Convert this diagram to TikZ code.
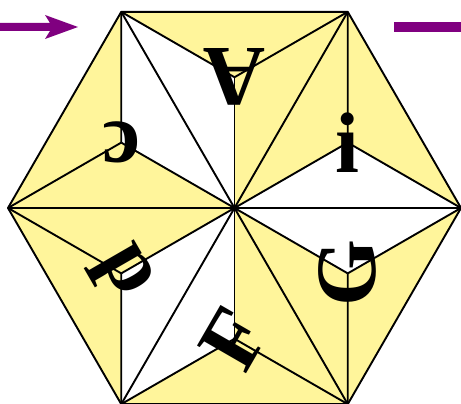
\documentclass[tikz,border=0pt]{standalone}
\usepackage{fontspec}
\setmainfont{Liberation Serif}
\usetikzlibrary{calc}
\definecolor{paleyellow}{RGB}{255,245,155}
\definecolor{arrowpurple}{RGB}{128,0,128}
\tikzset{
  edge/.style={black, line width=1.9pt, line join=round},
  letter/.style={inner sep=0pt, font=\fontsize{86}{86}\bfseries\selectfont},
}
\begin{document}
\begin{tikzpicture}[x=1pt,y=1pt]
\useasboundingbox (0,0) rectangle (461,404);
\def\R{226.5}
\def\r{130.77}
\coordinate (O) at (234.5,196);
\foreach \k in {0,...,5} {
  \coordinate (V\k) at ($(O)+({60*\k}:\R)$);
  \coordinate (C\k) at ($(O)+({60*\k+30}:\r)$);
}
% yellow hexagon
\fill[paleyellow] (V0)--(V1)--(V2)--(V3)--(V4)--(V5)--cycle;
% white kites around spokes O-V0, O-V2, O-V4
\fill[white] (O)--(C0)--(V0)--(C5)--cycle;
\fill[white] (O)--(C1)--(V2)--(C2)--cycle;
\fill[white] (O)--(C3)--(V4)--(C4)--cycle;
% spokes
\foreach \k in {0,...,5} { \draw[edge] (O)--(V\k); }
% centroid lines
\foreach \k [evaluate=\k as \n using {int(mod(\k+1,6))}] in {0,...,5} {
  \draw[edge] (C\k)--(O);
  \draw[edge] (C\k)--(V\k);
  \draw[edge] (C\k)--(V\n);
}
% outline
\draw[edge] (V0)--(V1)--(V2)--(V3)--(V4)--(V5)--cycle;
% letters
\node[letter, rotate=0]   (li) at (C0) {i};
\node[letter, rotate=180] (lA) at (C1) {A};
\node[letter, rotate=180] (lc) at (C2) {c};
\node[letter, rotate=-60] (lp) at (C3) {p};
\node[letter, rotate=60]  (lF) at (C4) {F};
\node[letter, rotate=90]  (lG) at (C5) {G};
% arrows
\fill[arrowpurple] (0,373) -- (50,373) -- (45,365) -- (78,377) -- (45,389) -- (50,381) -- (0,381) -- cycle;
\fill[arrowpurple] (394,372) rectangle (461,382);
\end{tikzpicture}
\end{document}
